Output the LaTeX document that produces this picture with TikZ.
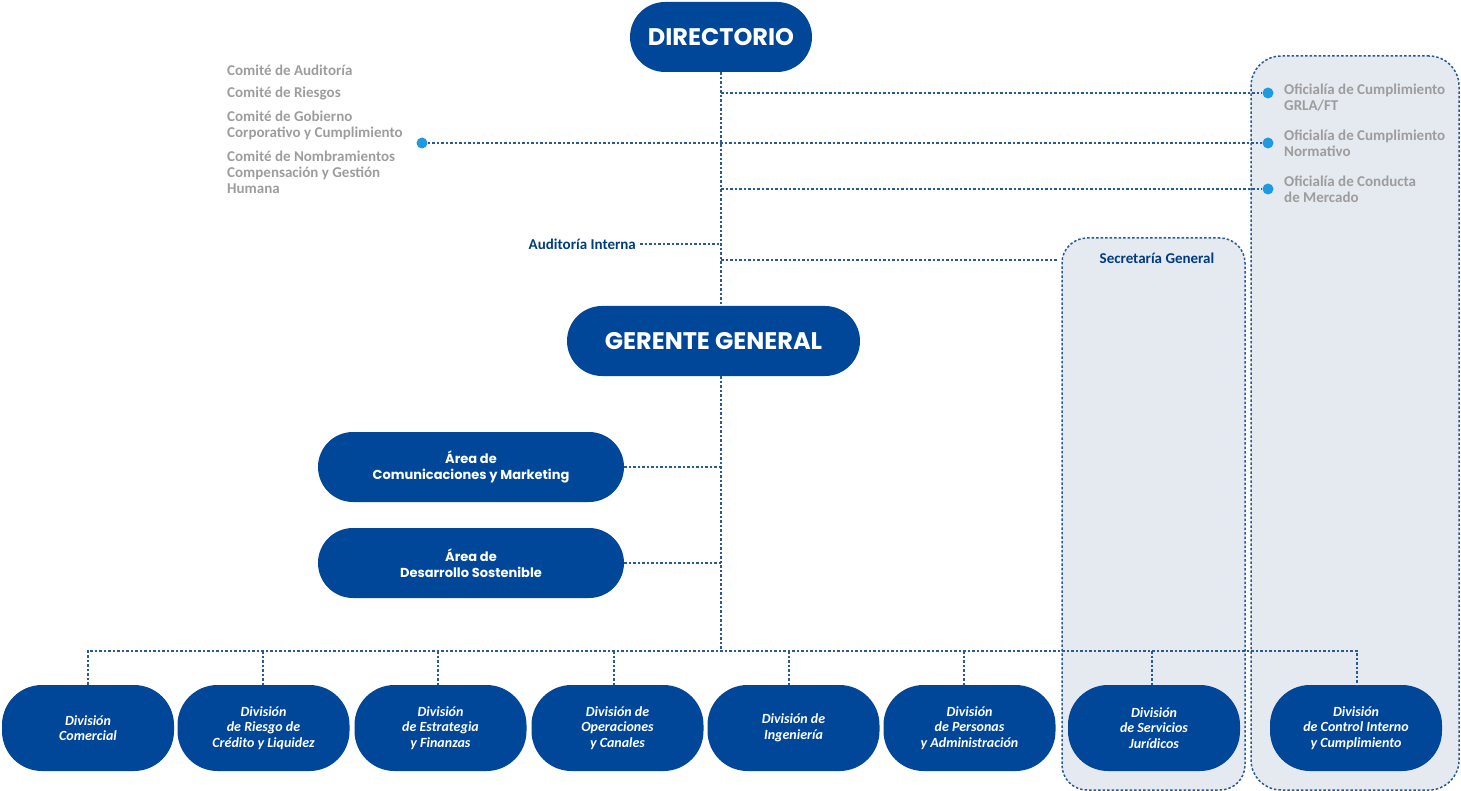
\documentclass[tikz,border=0pt]{standalone}
\usepackage{fontspec}
\setmainfont{Carlito}
\newfontfamily\pop{Poppins}
\usetikzlibrary{positioning}
\definecolor{navy}{HTML}{00479A}
\definecolor{lnblue}{HTML}{2A5A95}
\definecolor{grtx}{HTML}{9D9D9D}
\definecolor{panel}{HTML}{E5E9F0}
\definecolor{dotblue}{HTML}{1E9BE0}
\tikzset{
  pill/.style={fill=navy, text=white, rounded corners=#1, inner sep=0pt, align=center},
  topbox/.style={pill=35pt, minimum height=70pt, font=\pop\bfseries\fontsize{24}{27}\selectfont},
  areabox/.style={pill=35pt, minimum width=306pt, minimum height=70pt, font=\pop\bfseries\fontsize{13}{16}\selectfont},
  divbox/.style={pill=40pt, minimum width=172pt, minimum height=86pt, font=\bfseries\itshape\fontsize{14}{15.5}\selectfont},
  link/.style={draw=lnblue, line width=1.5pt, dash pattern=on 2.5pt off 2pt},
  panelbox/.style={fill=panel, draw=lnblue, line width=1.5pt, dash pattern=on 2.5pt off 2pt, inner sep=0pt},
  graytext/.style={text=grtx, font=\bfseries\fontsize{15}{16}\selectfont, align=left, inner sep=0pt},
  bluetext/.style={text=navy!85!black, font=\bfseries\fontsize{15}{16}\selectfont, inner sep=0pt},
  bullet/.style={circle, fill=dotblue, minimum size=11pt, inner sep=0pt},
}
\begin{document}
\begin{tikzpicture}[x=1pt,y=-1pt]
\useasboundingbox (0,0) rectangle (1461,791);
% panels
\node[panelbox, rounded corners=30pt, minimum width=208pt, minimum height=734pt] (ofi) at (1355,423) {};
\node[panelbox, rounded corners=25pt, minimum width=183pt, minimum height=552pt] (sec) at (1153.5,514) {};
\node[bluetext] (sectx) at (1157,258) {Secretaría General};

% top boxes
\node[topbox, minimum width=182pt] (dir) at (721,37) {DIRECTORIO};
\node[topbox, minimum width=293pt] (gg) at (713.5,341) {GERENTE GENERAL};
\node[areabox] (a1) at (471,467) {Área de\\Comunicaciones y Marketing};
\node[areabox] (a2) at (471,563) {Área de\\Desarrollo Sostenible};

% committees
\node[graytext, anchor=west] (c1) at (227,70) {Comité de Auditoría};
\node[graytext, anchor=west] (c2) at (227,94) {Comité de Riesgos};
\node[graytext, anchor=north west] (c3) at (227,111) {Comité de Gobierno\\Corporativo y Cumplimiento};
\node[graytext, anchor=north west] (c4) at (227,151) {Comité de Nombramientos\\Compensación y Gestión\\Humana};
\node[bullet] (cb) at (422,143) {};

% oficialias
\node[bullet] (o1) at (1268,93) {};
\node[bullet] (o2) at (1268,143) {};
\node[bullet] (o3) at (1268,189) {};
\node[graytext, anchor=north west] (ot1) at (1284,84) {Oficialía de Cumplimiento\\GRLA/FT};
\node[graytext, anchor=north west] (ot2) at (1284,130) {Oficialía de Cumplimiento\\Normativo};
\node[graytext, anchor=north west] (ot3) at (1284,176) {Oficialía de Conducta\\de Mercado};

\node[bluetext, anchor=east] (ai) at (636,244) {Auditoría Interna};

% divisions
\node[divbox] (d1) at (88,728) {División\\Comercial};
\node[divbox] (d2) at (263.5,728) {División\\de Riesgo de\\Crédito y Liquidez};
\node[divbox] (d3) at (440.5,728) {División\\de Estrategia\\y Finanzas};
\node[divbox] (d4) at (617.5,728) {División de\\Operaciones\\y Canales};
\node[divbox] (d5) at (793.5,728) {División de\\Ingeniería};
\node[divbox] (d6) at (969.5,728) {División\\de Personas\\y Administración};
\node[divbox] (d7) at (1154,728) {División\\de Servicios\\Jurídicos};
\node[divbox] (d8) at (1356,728) {División\\de Control Interno\\y Cumplimiento};

% trunk
\coordinate (t1) at (721,93);
\coordinate (t3) at (721,189);
\coordinate (ta) at (721,244);
\coordinate (ts) at (721,260);
\coordinate (tgt) at (721,306);
\coordinate (tgb) at (721,376);
\coordinate (bus) at (721,651);
\coordinate (secl) at (1058,260);
\draw[link] (dir.south) -- (tgt);
\draw[link] (tgb) -- (bus);
\draw[link] (t1) -- (o1);
\draw[link] (cb) -- (o2);
\draw[link] (t3) -- (o3);
\draw[link] (ai.east) ++(4,0) -- (ta);
\draw[link] (ts) -- (secl);
\draw[link] (a1.east) -- (a1.east -| bus);
\draw[link] (a2.east) -- (a2.east -| bus);
% bus
\draw[link] (d1.north) -- (d1.north |- bus) -- ([xshift=1pt]d8.north |- bus) -- ([xshift=1pt]d8.north);
\foreach \d/\s in {d2/-0.5,d3/-2.5,d4/-3.5,d5/-4.5,d6/-5.5,d7/-2}
  \draw[link] ([xshift=\s pt]\d.north |- bus) -- ([xshift=\s pt]\d.north);
\end{tikzpicture}
\end{document}
